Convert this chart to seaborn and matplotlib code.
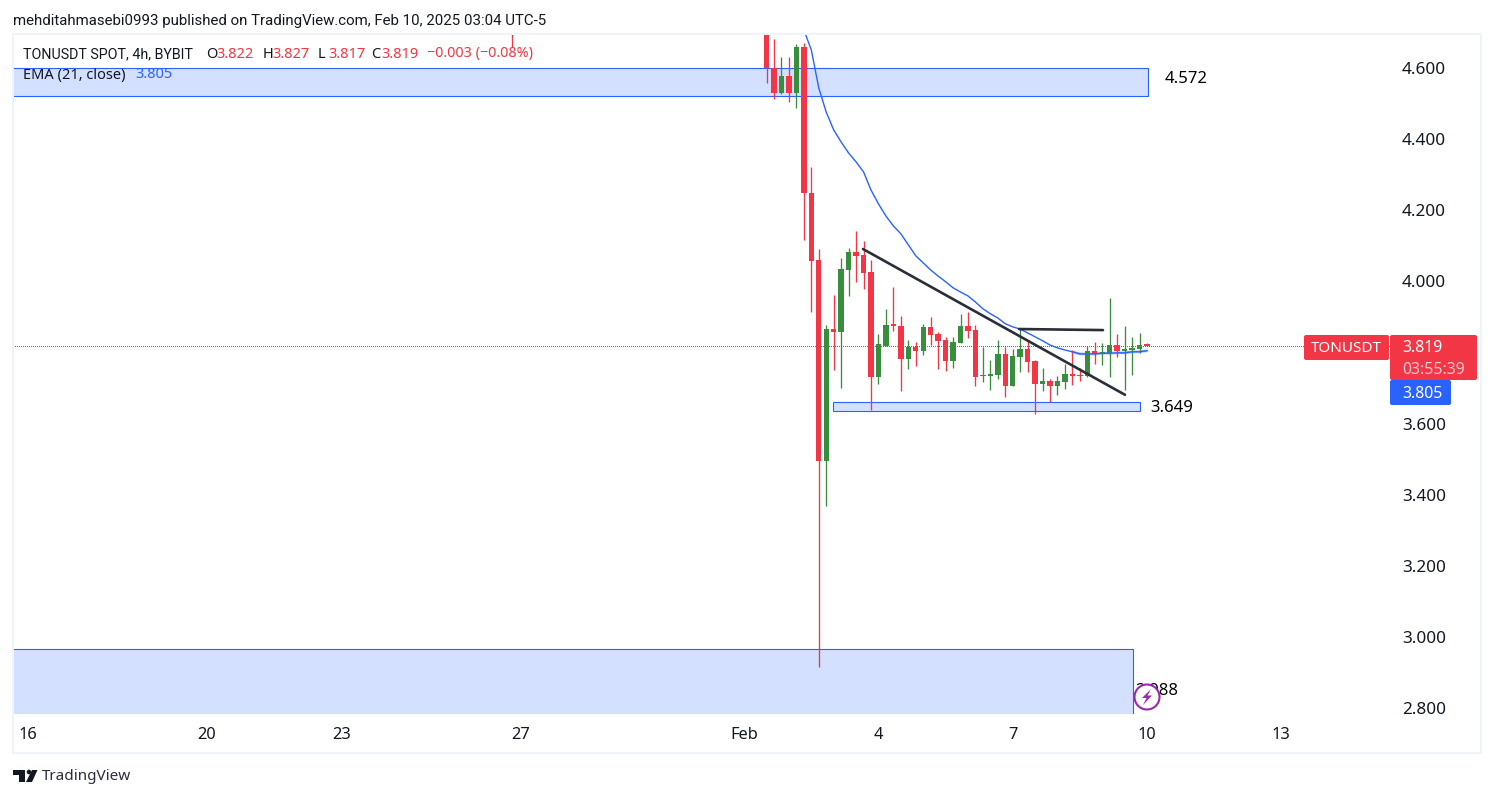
import numpy as np
import pandas as pd
import matplotlib
matplotlib.use('Agg')
import matplotlib.pyplot as plt
import matplotlib.dates as mdates
from matplotlib.patches import Rectangle, Polygon, Circle, FancyBboxPatch
import seaborn as sns

# candle values
opens = [4.750, 4.600, 4.530, 4.578, 4.530, 4.659, 4.249, 4.060, 3.495, 3.866, 3.858, 4.032, 4.083,
         4.075, 4.027, 3.731, 3.819, 3.878, 3.875, 3.782, 3.816, 3.805, 3.872, 3.852, 3.836, 3.776,
         3.827, 3.875, 3.864, 3.734, 3.734, 3.737, 3.796, 3.706, 3.788, 3.810, 3.776, 3.712, 3.720,
         3.706, 3.717, 3.740, 3.737, 3.734, 3.805, 3.796, 3.799, 3.821, 3.805, 3.807, 3.810, 3.822]
highs = [4.800, 4.682, 4.631, 4.631, 4.667, 4.670, 4.322, 4.091, 3.877, 3.962, 4.066, 4.094, 4.142,
         4.114, 4.060, 3.852, 3.923, 3.985, 3.903, 3.836, 3.830, 3.881, 3.900, 3.858, 3.844, 3.844,
         3.909, 3.914, 3.878, 3.816, 3.779, 3.836, 3.816, 3.810, 3.866, 3.833, 3.779, 3.757, 3.726,
         3.734, 3.768, 3.807, 3.757, 3.819, 3.830, 3.827, 3.954, 3.852, 3.875, 3.844, 3.855, 3.827]
lows = [4.558, 4.513, 4.527, 4.504, 4.488, 4.116, 3.914, 2.916, 3.368, 3.751, 3.701, 3.959, 3.999,
        3.979, 3.639, 3.712, 3.819, 3.861, 3.692, 3.754, 3.762, 3.793, 3.821, 3.754, 3.748, 3.757,
        3.827, 3.841, 3.706, 3.717, 3.695, 3.726, 3.675, 3.706, 3.746, 3.746, 3.627, 3.692, 3.661,
        3.681, 3.698, 3.709, 3.720, 3.731, 3.768, 3.765, 3.731, 3.788, 3.695, 3.737, 3.799, 3.817]
closes = [4.600, 4.530, 4.578, 4.530, 4.659, 4.249, 4.057, 3.495, 3.866, 3.858, 4.035, 4.083, 4.072,
          4.024, 3.731, 3.824, 3.878, 3.875, 3.782, 3.816, 3.805, 3.872, 3.850, 3.833, 3.776, 3.830,
          3.875, 3.861, 3.731, 3.737, 3.740, 3.796, 3.706, 3.791, 3.810, 3.773, 3.712, 3.720, 3.706,
          3.720, 3.740, 3.734, 3.734, 3.805, 3.796, 3.799, 3.821, 3.805, 3.810, 3.813, 3.821, 3.819]
ema = [4.707, 4.651, 4.544, 4.476, 4.426, 4.392, 4.361, 4.336, 4.308, 4.257, 4.218, 4.184, 4.156,
       4.134, 4.103, 4.072, 4.052, 4.032, 4.015, 3.999, 3.982, 3.970, 3.959, 3.942, 3.923, 3.909,
       3.897, 3.881, 3.872, 3.866, 3.855, 3.844, 3.833, 3.821, 3.813, 3.807, 3.802, 3.796, 3.796,
       3.796, 3.798, 3.798, 3.799, 3.799, 3.802, 3.802, 3.805]
ema_skip = 5
# 3.800 sits behind the price tags, so it gets no label
price_ticks = [4.6, 4.4, 4.2, 4.0, 3.6, 3.4, 3.2, 3.0, 2.8]
date_ticks = ['2025-01-16', '2025-01-20', '2025-01-23', '2025-01-27', '2025-02-01', '2025-02-04',
              '2025-02-07', '2025-02-10', '2025-02-13']
date_labels = ['16', '20', '23', '27', 'Feb', '4', '7', '10', '13']

RED = '#f23645'
GREEN = '#388e3c'
BLUE = '#2962ff'
INK = '#131722'
FILL = '#d4e0ff'
FONT = 'Noto Sans'

sns.set_theme(style='white')
plt.rcParams['font.family'] = [FONT, 'DejaVu Sans']

times = pd.date_range('2025-02-01 12:00', periods=len(opens), freq='4h')
df = pd.DataFrame({'t': mdates.date2num(times), 'o': opens, 'h': highs, 'l': lows, 'c': closes})
df['color'] = np.where(df.c >= df.o, GREEN, RED)
t0 = mdates.date2num(pd.Timestamp('2025-01-16'))


def px_to_x(px):
    return t0 + (px - 28) / 44.76


def py_to_price(py):
    return 4.6 - (py - 68) * 0.002812


fig = plt.figure(figsize=(14.94, 7.98), dpi=100, facecolor='white')
W, H = 1494, 798
ax = fig.add_axes([13 / W, 1 - 714 / H, (1390 - 13) / W, (714 - 34) / H])
ax.set_xlim(px_to_x(13), px_to_x(1390))
ax.set_ylim(py_to_price(714), py_to_price(34))

# zones
zone_left = ax.get_xlim()[0]
for x1_px, top, bottom, x0_px in [(1148, 4.600, 4.520, None), (1133, 2.966, 2.70, None), (1140, 3.661, 3.636, 833)]:
    x0 = zone_left - 1 if x0_px is None else px_to_x(x0_px)
    ax.add_patch(Rectangle((x0, bottom), px_to_x(x1_px) - x0, top - bottom, facecolor=FILL,
                           edgecolor=BLUE, lw=0.8, zorder=1))

ax.axhline(closes[-1], color=RED, lw=0.72, ls=(0, (1, 2)), zorder=1.5, antialiased=False)

# candles
wicks = ax.vlines(df.t, df.l, df.h, colors=df.color, lw=0.95, zorder=3)
wicks.set_snap(True)
ax.bar(df.t, (df.c - df.o).abs().clip(lower=0.004), bottom=df[['o', 'c']].min(axis=1), width=5.4 / 44.76,
       color=df.color, linewidth=0, zorder=3)
stray = ax.vlines(px_to_x(512), 4.659, 4.70, colors=RED, lw=0.95, zorder=3)
stray.set_snap(True)

# ema
ema_df = pd.DataFrame({'t': df.t.values[ema_skip:], 'ema': ema})
sns.lineplot(data=ema_df, x='t', y='ema', color=BLUE, lw=1.0, ax=ax, zorder=4, errorbar=None)
sns.lineplot(data=ema_df.iloc[-11:], x='t', y='ema', color=BLUE, lw=2.0, alpha=0.4, ax=ax, zorder=2.5, errorbar=None)

# hand drawn trend lines
ax.plot([px_to_x(863), px_to_x(1125)], [4.091, 3.681], color='#2a2e39', lw=1.9, zorder=5)
ax.plot([px_to_x(1019), px_to_x(1103)], [3.866, 3.863], color='#2a2e39', lw=1.9, zorder=5)

ax.set_xlabel('')
ax.set_ylabel('')
ax.set_xticks(mdates.date2num(pd.to_datetime(date_ticks)))
ax.set_xticklabels(date_labels, fontsize=11.8, color=INK)
ax.get_xticklabels()[4].set_fontweight('semibold')
ax.yaxis.tick_right()
ax.set_yticks(price_ticks)
ax.set_yticklabels(['%.3f' % p for p in price_ticks], fontsize=12.3, color=INK)
ax.tick_params(axis='x', length=0, pad=9.2)
ax.tick_params(axis='y', length=0, pad=8.6)
for s in ax.spines.values():
    s.set_visible(False)

# overlay in pixels for the page furniture
ov = fig.add_axes([0, 0, 1, 1], facecolor='none', zorder=10)
ov.set_xlim(0, W)
ov.set_ylim(H, 0)
ov.axis('off')
ov.add_patch(Rectangle((13, 34), 1468, 719, fill=False, edgecolor='#f0f3fa', lw=1.4))


def txt(x, y, s, color=INK, size=10.5, ha='left', **kw):
    return ov.text(x, y, s, color=color, fontsize=size, ha=ha, va='center', **kw)


txt(13, 20.5, 'mehditahmasebi0993 published on TradingView.com, Feb 10, 2025 03:04 UTC-5', size=10.8, family='Roboto')
txt(23, 54, 'TONUSDT SPOT, 4h, BYBIT', size=10.3, family='Roboto')
for x, lab, val in [(206, 'O', '3.822'), (262.5, 'H', '3.827'), (318, 'L', '3.817'), (371.5, 'C', '3.819')]:
    txt(x, 54, lab)
    txt(x + 10, 54, val, color=RED)
txt(427, 54, '\u22120.003 (\u22120.08%)', color=RED, size=10.3)
txt(23, 75, 'EMA (21, close)')
txt(135.5, 75, '3.805', color=BLUE)

txt(1165, 79, '4.572', color='black', size=12)
txt(1150, 407.5, '3.649', color='black', size=12)
txt(1135, 691, '2.988', color='black', size=12)

# price tags
def tag(x0, y0, x1, y1, color):
    ov.add_patch(FancyBboxPatch((x0 + 2, y0 + 2), x1 - x0 - 4, y1 - y0 - 4,
                                boxstyle='round,pad=2,rounding_size=2', facecolor=color, edgecolor='none'))


tag(1304, 335, 1389, 360, RED)
tag(1390, 335, 1477, 380, RED)
tag(1390, 380, 1451, 405, BLUE)
txt(1346.5, 348, 'TONUSDT', color='white', size=11, ha='center', fontweight='semibold')
txt(1402, 347.5, '3.819', color='white', size=11.4, fontweight='semibold')
txt(1402, 369.5, '03:55:39', color='#fbc8cd', size=11.4)
txt(1402, 393.5, '3.805', color='white', size=11.4, fontweight='semibold')

# bolt badge
ov.add_patch(Circle((1147, 697), 12.5, facecolor='white', edgecolor='#9c27b0', lw=1.5, zorder=6))
ov.add_patch(Polygon([(1151, 689), (1142, 698), (1146.5, 698), (1143, 705), (1152, 695.5), (1147.5, 695.5)],
                     closed=True, facecolor='#9c27b0', edgecolor='none', zorder=7))

# TradingView logo
ov.add_patch(Polygon([(13, 770), (25, 770), (25, 782), (19, 782), (19, 775), (13, 775)], closed=True,
                     facecolor=INK, edgecolor='none'))
ov.add_patch(Circle((29, 772), 2.3, facecolor=INK, edgecolor='none'))
ov.add_patch(Polygon([(32, 770), (37.5, 770), (32, 782), (26, 782)], closed=True, facecolor=INK, edgecolor='none'))
txt(42, 777, 'TradingView', size=11, color='#2a2e39')

fig.savefig('out.png', dpi=100, facecolor='white')
